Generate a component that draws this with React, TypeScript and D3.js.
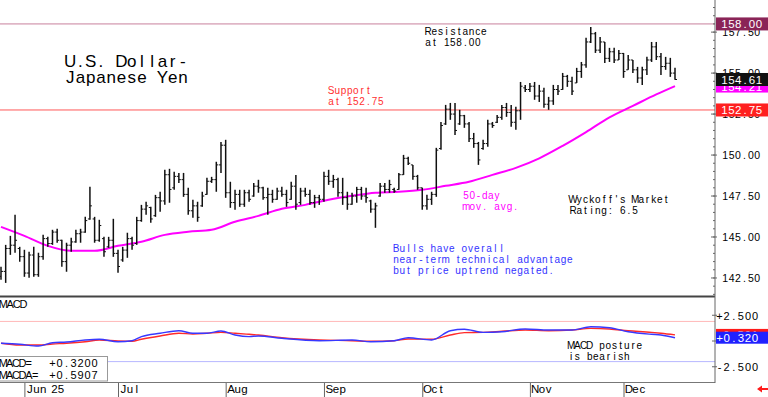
import React from 'react'
import * as d3 from 'd3'

// daily bars, index 0 = late May, last = mid Dec
const highs = [
  143.18, 144.52, 145.07, 146.35, 144.40, 144.22, 144.10, 144.40, 144.04, 145.13,
  145.01, 145.44, 145.50, 144.83, 144.65, 144.95, 145.44, 145.50, 146.23, 148.06,
  146.23, 146.05, 145.01, 145.01, 146.11, 144.22, 144.40, 145.26, 145.01, 146.23,
  146.96, 147.15, 146.84, 147.57, 147.76, 149.10, 149.16, 148.98, 148.91, 148.91,
  148.00, 147.27, 147.15, 147.76, 148.61, 148.67, 149.59, 150.80, 150.93, 148.37,
  147.88, 147.88, 147.88, 147.88, 148.30, 148.49, 148.06, 148.00, 147.88, 148.00,
  148.06, 147.88, 148.37, 148.79, 148.00, 148.00, 147.88, 147.57, 147.57, 148.98,
  149.10, 148.79, 148.61, 148.61, 147.76, 147.70, 148.06, 148.06, 148.00, 147.27,
  147.09, 148.30, 148.30, 148.49, 148.00, 148.91, 150.01, 149.89, 149.40, 148.79,
  148.00, 147.57, 147.76, 150.44, 152.02, 153.06, 153.18, 153.18, 152.76, 152.45,
  152.02, 151.35, 150.80, 150.93, 152.15, 152.02, 152.45, 153.06, 153.18, 153.06,
  152.94, 154.46, 154.28, 154.40, 154.46, 154.28, 154.10, 153.55, 154.28, 154.28,
  155.01, 154.89, 154.77, 155.32, 155.68, 157.15, 157.82, 157.51, 157.21, 156.90,
  156.54, 156.54, 156.41, 156.23, 156.11, 155.80, 155.38, 155.38, 155.99, 156.90,
  156.90, 156.23, 155.99, 155.93, 155.32,
]
const lows = [
  142.39, 142.20, 143.91, 144.04, 143.49, 142.57, 142.51, 142.57, 142.57, 143.61,
  144.40, 144.52, 144.65, 143.18, 142.88, 144.10, 144.65, 144.65, 145.26, 146.05,
  144.65, 144.71, 143.79, 144.34, 143.79, 142.82, 143.49, 143.73, 144.22, 144.52,
  145.93, 146.35, 145.87, 146.23, 146.54, 146.96, 147.09, 147.88, 148.30, 147.45,
  146.35, 146.17, 145.93, 146.84, 147.57, 148.30, 147.76, 148.91, 147.39, 146.78,
  146.66, 146.84, 146.84, 147.15, 147.45, 147.70, 147.27, 146.35, 147.09, 147.27,
  147.45, 146.84, 147.27, 146.66, 146.96, 147.45, 146.96, 146.78, 146.96, 147.15,
  148.18, 148.00, 147.45, 146.96, 146.66, 146.96, 147.09, 147.27, 147.09, 146.48,
  145.56, 147.45, 147.70, 147.70, 147.70, 147.88, 148.79, 149.40, 148.49, 147.88,
  146.66, 146.66, 146.96, 147.45, 150.32, 151.84, 152.15, 151.23, 151.84, 151.66,
  150.80, 150.44, 149.40, 150.32, 150.50, 151.66, 151.96, 152.15, 152.33, 151.72,
  151.54, 152.15, 153.85, 153.85, 153.37, 153.24, 152.88, 152.76, 153.06, 153.67,
  153.98, 154.16, 153.67, 154.40, 154.71, 155.32, 156.84, 156.23, 156.23, 155.62,
  155.68, 155.62, 155.80, 154.71, 155.20, 155.01, 154.40, 154.28, 154.89, 155.68,
  155.80, 154.89, 155.20, 154.77, 154.59,
]
const opens = [
  142.60, 142.90, 144.30, 144.50, 144.30, 143.80, 142.80, 143.90, 142.70, 143.80,
  144.90, 144.60, 145.30, 144.80, 143.50, 144.50, 144.70, 145.20, 145.30, 146.10,
  146.10, 144.80, 144.90, 144.40, 144.80, 144.00, 143.60, 144.20, 144.90, 144.60,
  146.00, 146.70, 146.80, 146.30, 147.40, 147.20, 148.80, 148.00, 148.70, 148.50,
  147.60, 146.60, 146.90, 146.90, 147.60, 148.40, 148.50, 149.40, 150.60, 147.70,
  147.10, 147.60, 147.00, 147.70, 147.50, 148.10, 148.00, 147.40, 147.60, 147.30,
  147.80, 147.60, 147.30, 148.10, 147.10, 147.80, 147.60, 147.10, 147.40, 147.30,
  148.70, 148.40, 148.50, 147.70, 147.40, 147.00, 147.50, 147.90, 147.50, 147.20,
  146.70, 147.50, 148.10, 147.90, 147.90, 147.90, 148.80, 149.80, 149.40, 148.70,
  148.00, 146.90, 147.30, 147.60, 150.40, 151.90, 152.80, 152.50, 151.90, 152.40,
  151.90, 151.00, 150.70, 150.40, 150.70, 151.90, 152.00, 152.30, 152.90, 152.60,
  152.00, 152.70, 154.10, 154.00, 154.20, 153.60, 153.90, 153.10, 153.30, 154.00,
  154.00, 154.80, 154.50, 154.40, 155.10, 155.50, 156.90, 157.40, 156.40, 156.90,
  155.90, 156.30, 155.80, 156.20, 155.20, 155.80, 155.20, 154.70, 155.20, 155.80,
  156.60, 156.00, 155.40, 155.60, 155.00,
]
const closes = [
  142.90, 144.30, 144.50, 144.80, 143.80, 142.80, 143.90, 142.70, 143.80, 144.90,
  144.60, 145.30, 144.80, 143.50, 144.50, 144.70, 145.20, 145.30, 146.00, 146.90,
  144.80, 145.70, 144.10, 144.80, 144.00, 143.20, 144.20, 144.90, 144.50, 146.00,
  146.70, 146.90, 146.10, 147.40, 147.20, 148.80, 147.90, 148.70, 148.50, 147.60,
  146.60, 146.90, 146.20, 147.50, 148.40, 148.50, 149.40, 150.60, 147.70, 147.10,
  147.60, 147.00, 147.70, 147.30, 148.10, 148.00, 147.40, 147.60, 147.30, 147.80,
  147.60, 147.10, 148.10, 147.00, 147.80, 147.60, 147.10, 147.40, 147.30, 148.70,
  148.40, 148.50, 147.70, 147.40, 147.00, 147.50, 147.90, 147.50, 147.40, 146.70,
  146.90, 148.10, 147.90, 148.20, 147.80, 148.80, 149.80, 149.50, 148.70, 148.00,
  146.90, 147.30, 147.60, 150.30, 151.80, 152.80, 152.50, 151.50, 152.40, 151.90,
  151.00, 150.70, 149.70, 150.70, 151.90, 151.80, 152.30, 152.90, 152.60, 152.00,
  152.70, 154.20, 154.00, 154.20, 153.60, 153.90, 153.10, 153.30, 154.00, 153.90,
  154.80, 154.50, 153.90, 155.10, 155.50, 156.90, 157.40, 156.40, 156.90, 155.90,
  156.30, 155.80, 156.20, 155.10, 155.80, 155.20, 154.70, 155.20, 155.80, 156.60,
  156.00, 155.40, 155.60, 155.00, 154.61,
]

// 50-day moving average, read every 5 bars
const maIdx = [0, 5, 10, 15, 20, 25, 30, 35, 40, 45, 50, 55, 60, 65, 70, 75, 80, 85, 90, 95, 100, 105, 110, 115, 120, 125, 130, 135, 140, 144]
const ma = [
  145.62, 145.07, 144.46, 144.16, 144.16, 144.46, 144.71, 145.13, 145.32, 145.44,
  145.93, 146.29, 146.72, 146.96, 147.27, 147.51, 147.70, 147.76, 147.88, 148.12,
  148.37, 148.79, 149.22, 149.80, 150.56, 151.40, 152.30, 153.00, 153.70, 154.21,
]

// MACD panel
const macdIdx = [0, 4, 8, 11, 14, 18, 21, 25, 28, 30, 34, 38, 41, 44, 47, 50, 53, 55, 60, 68, 75, 79, 84, 87, 92, 96, 99, 103, 107, 112, 117, 122, 126, 130, 134, 139, 141, 144]
const macd = [
  -0.22, -0.32, -0.49, -0.17, -0.10, 0.10, 0.17, -0.07, 0.03, 0.42,
  0.75, 1.00, 0.75, 0.75, 0.97, 0.58, 0.42, 0.49, 0.26, 0.03,
  0.10, -0.07, 0.03, 0.32, 0.10, 1.00, 1.14, 0.84, 0.90, 1.17,
  1.07, 1.07, 1.39, 1.29, 0.90, 0.65, 0.58, 0.32,
]
const macda = [
  -0.22, -0.39, -0.39, -0.29, -0.22, -0.07, 0.10, 0.00, -0.03, 0.17,
  0.49, 0.75, 0.68, 0.75, 0.84, 0.75, 0.65, 0.58, 0.32, 0.10,
  0.03, -0.03, 0.03, 0.19, 0.17, 0.58, 0.81, 0.84, 0.94, 1.07,
  1.00, 1.07, 1.23, 1.17, 1.00, 0.84, 0.75, 0.59,
]

const monthIdx = [5, 25, 48, 69, 90, 113, 133]
const monthLabels = ['Jun', 'Jul', 'Aug', 'Sep', 'Oct', 'Nov', 'Dec']
const priceTicks = [142.5, 145, 147.5, 150, 152.5, 155, 157.5]
const macdTicks = [2.5, -2.5]

const resistance = 158.0
const support = 152.75
const lastClose = 154.61
const lastMa = 154.21
const lastMacd = 0.32
const lastMacda = 0.5907

const W = 768
const H = 397
const AX = 715
const FONT = '"Liberation Sans", Arial, sans-serif'

const x = d3.scaleLinear().domain([0, 144]).range([1, 675])
const y = d3.scaleLinear().domain([141.4, 159.46]).range([296, 0])
const yM = d3.scaleLinear().domain([-4, 4]).range([382.2, 299.8])

// fixed-pitch text, each glyph centred in its cell
function Mono({ x0, y0, text, pitch, size, fill = '#000' }: any) {
  const xs = Array.from(text as string).map((_, k) => (x0 + pitch * (k + 0.5)).toFixed(2))
  return (
    <text x={xs.join(' ')} y={y0} fontSize={size} fill={fill} textAnchor="middle"
      fontFamily={FONT} style={{ whiteSpace: 'pre' }}>{text}</text>
  )
}

function PriceBox({ value, fill, label }: any) {
  const cy = y(value)
  return (
    <g>
      <rect x={AX + 1} y={cy - 6.5} width={W - AX} height={13} fill={fill} />
      <Mono x0={721} y0={cy + 4.5} text={label} pitch={6.9} size={11.5} fill="#fff" />
    </g>
  )
}

export default function App() {
  const maLine = d3.line<number>()
    .x((d, i) => x(maIdx[i]))
    .y((d) => y(d))
    .curve(d3.curveMonotoneX)

  const macdLine = (vals: number[]) => d3.line<number>()
    .x((d, i) => x(macdIdx[i]))
    .y((d) => yM(d))
    .curve(d3.curveMonotoneX)(vals)

  const minor = d3.range(141.5, 159.01, 0.5)

  return (
    <div style={{ position: 'absolute', left: 0, top: 0 }}>
      <svg width={W} height={H} style={{ display: 'block', background: '#fff' }}>
        {/* level lines */}
        <line x1={0} x2={AX} y1={y(resistance)} y2={y(resistance)} stroke="#c8809c" strokeWidth={1} />
        <line x1={0} x2={AX} y1={y(support)} y2={y(support)} stroke="#ff5858" strokeWidth={1} />

        {/* moving average */}
        <path d={maLine(ma) || ''} fill="none" stroke="#ff00ff" strokeWidth={2} />

        {/* OHLC bars */}
        <g stroke="#111" strokeWidth={1.5}>
          {highs.map((h, i) => {
            const cx = x(i)
            return (
              <g key={i}>
                <line x1={cx} x2={cx} y1={y(h)} y2={y(lows[i])} />
                <line x1={cx - 2} x2={cx} y1={y(opens[i])} y2={y(opens[i])} strokeWidth={1} />
                <line x1={cx} x2={cx + 2} y1={y(closes[i])} y2={y(closes[i])} strokeWidth={1} />
              </g>
            )
          })}
        </g>

        {/* annotations */}
        <Mono x0={65} y0={67} text="U.S. Dollar-" pitch={10.25} size={17} />
        <Mono x0={65} y0={83} text="Japanese Yen" pitch={10.25} size={17} />
        <Mono x0={425} y0={35} text="Resistance" pitch={6.2} size={10} />
        <Mono x0={425} y0={46} text="at 158.00" pitch={6.2} size={10} />
        <Mono x0={328} y0={94} text="Support" pitch={6.2} size={10} fill="#ff3030" />
        <Mono x0={328} y0={105} text="at 152.75" pitch={6.2} size={10} fill="#ff3030" />
        <Mono x0={463} y0={199} text="50-day" pitch={6.2} size={10} fill="#ff00ff" />
        <Mono x0={463} y0={210} text="mov. avg." pitch={6.2} size={10} fill="#ff00ff" />
        <Mono x0={570} y0={203} text="Wyckoff's Market" pitch={6.2} size={10} />
        <Mono x0={570} y0={214} text="Rating: 6.5" pitch={6.2} size={10} />
        <Mono x0={393} y0={252} text="Bulls have overall" pitch={6.2} size={10} fill="#3333ff" />
        <Mono x0={393} y0={263} text="near-term technical advantage" pitch={6.2} size={10} fill="#3333ff" />
        <Mono x0={393} y0={274} text="but price uptrend negated." pitch={6.2} size={10} fill="#3333ff" />

        {/* panel separators */}
        <line x1={0} x2={AX} y1={296.5} y2={296.5} stroke="#444" strokeWidth={2} />
        <line x1={0} x2={AX} y1={382.5} y2={382.5} stroke="#777" strokeWidth={1} />

        {/* MACD panel */}
        <line x1={0} x2={AX} y1={yM(1.9)} y2={yM(1.9)} stroke="#ffb8b8" strokeWidth={1} />
        <line x1={0} x2={AX} y1={yM(-2)} y2={yM(-2)} stroke="#b8b8ff" strokeWidth={1} />
        <path d={macdLine(macda) || ''} fill="none" stroke="#ff2a2a" strokeWidth={1.4} />
        <path d={macdLine(macd) || ''} fill="none" stroke="#3838ff" strokeWidth={1.4} />
        <Mono x0={0} y0={308} text="MACD" pitch={6.7} size={11} />
        <rect x={-1} y={356.5} width={108.5} height={24.5} fill="#fff" stroke="#999" />
        <Mono x0={0} y0={367} text="MACD=" pitch={6.4} size={11} />
        <Mono x0={0} y0={379} text="MACDA=" pitch={6.4} size={11} />
        <Mono x0={49} y0={367} text="+0.3200" pitch={7} size={11} />
        <Mono x0={49} y0={379} text="+0.5907" pitch={7} size={11} />
        <Mono x0={568} y0={349} text="MACD posture" pitch={6.2} size={10} />
        <Mono x0={568} y0={360} text="is bearish" pitch={6.2} size={10} />

        {/* right axis */}
        <line x1={AX} x2={AX} y1={0} y2={383} stroke="#666" strokeWidth={1} />
        {minor.map((v) => (
          <line key={v} x1={AX - 2} x2={AX} y1={y(v)} y2={y(v)} stroke="#666" />
        ))}
        {priceTicks.map((v) => (
          <g key={v}>
            <line x1={AX - 4} x2={AX + 2} y1={y(v)} y2={y(v)} stroke="#666" />
            <Mono x0={722} y0={y(v) + 4} text={v.toFixed(2)} pitch={6.4} size={10.5} />
          </g>
        ))}
        {[2.5, 0, -2.5].map((v) => (
          <line key={v} x1={AX - 3} x2={AX + 2} y1={yM(v)} y2={yM(v)} stroke="#666" />
        ))}
        {macdTicks.map((v) => (
          <Mono key={v} x0={716} y0={yM(v) + 4.5} text={(v > 0 ? '+' : '-') + Math.abs(v).toFixed(3)} pitch={7.1} size={11} />
        ))}

        {/* value boxes */}
        <PriceBox value={lastMa} fill="#ff00ff" label={lastMa.toFixed(2)} />
        <PriceBox value={lastClose} fill="#111" label={lastClose.toFixed(2)} />
        <PriceBox value={support} fill="#ff2020" label={support.toFixed(2)} />
        <PriceBox value={resistance} fill="#8a2457" label={resistance.toFixed(2)} />
        <rect x={AX + 1} y={yM(lastMacda) - 6} width={W - AX} height={12} fill="#ff1a1a" />
        <Mono x0={716} y0={yM(lastMacda) + 4} text="+0.591" pitch={7.1} size={11} fill="#ffc0c0" />
        <rect x={AX + 1} y={yM(lastMacd) - 6} width={W - AX} height={12} fill="#2020ff" />
        <Mono x0={716} y0={yM(lastMacd) + 4.5} text={'+' + lastMacd.toFixed(3)} pitch={7.1} size={11.5} fill="#fff" />

        {/* month axis */}
        {monthIdx.map((m, k) => (
          <g key={m}>
            <line x1={x(m) + 0.5} x2={x(m) + 0.5} y1={383} y2={H} stroke="#666" />
            <Mono x0={x(m) + 2} y0={393} text={monthLabels[k]} pitch={6.7} size={11.5} />
          </g>
        ))}
        <Mono x0={51} y0={393} text="25" pitch={6.7} size={11.5} />

        <path d="M757 389 L762 385.5 L762 388 L768 388 L768 390 L762 390 L762 392.5 Z" fill="#ff1a1a" />
      </svg>
    </div>
  )
}
